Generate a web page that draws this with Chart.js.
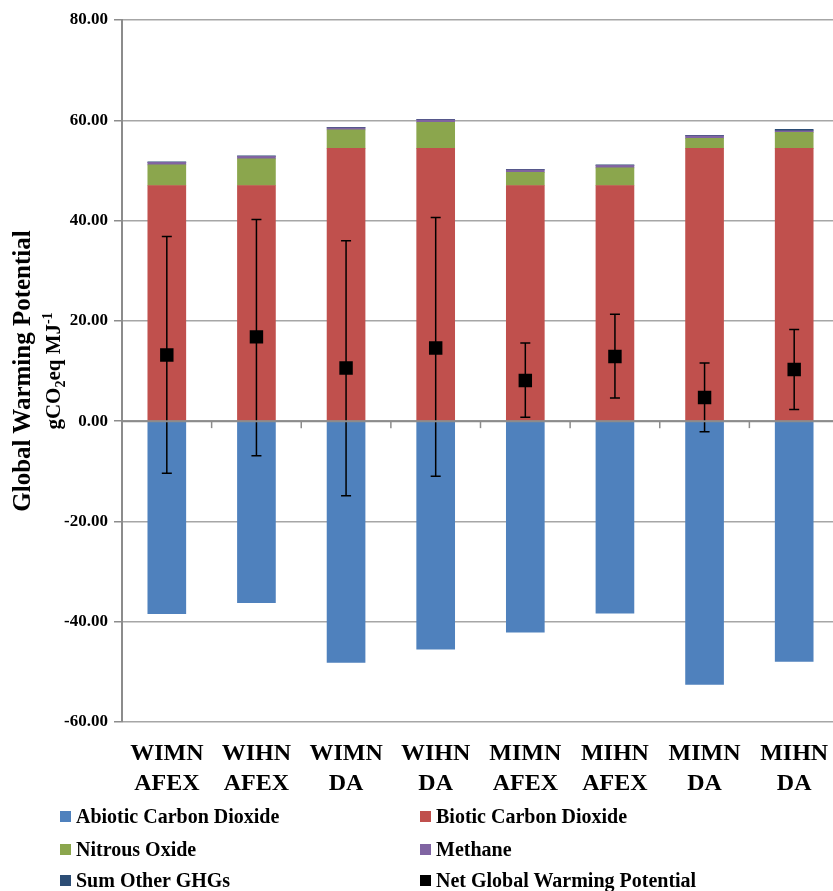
<!DOCTYPE html>
<html>
<head>
<meta charset="utf-8">
<script src="https://cdn.jsdelivr.net/npm/chart.js@4.4.1/dist/chart.umd.min.js"></script>
<style>
  body { margin: 0; background: #fff; overflow: hidden; }
  #wrap { position: relative; width: 833px; height: 891px; overflow: hidden; font-family: "Liberation Serif", "DejaVu Serif", serif; }
  #c { position: absolute; left: 0; top: 0; }
  #ytitle {
    position: absolute; left: -216px; top: 345px; width: 500px; height: 52px;
    transform: rotate(-90deg); text-align: center; font-weight: bold; color: #000;
  }
  #ytitle .l1 { font-size: 25px; line-height: 27px; }
  #ytitle .l2 { font-size: 21px; line-height: 25px; }
  #ytitle sub, #ytitle sup { font-size: 14px; }
  .leg { position: absolute; font-weight: bold; font-size: 20px; color: #000; white-space: nowrap; line-height: 24px; }
  .leg span { display: inline-block; width: 11px; height: 11px; margin-right: 5px; vertical-align: 1px; }
</style>
</head>
<body>
<div id="wrap">
  <!-- canvas a bit wider than the page: the plot runs off the right edge like the original -->
  <canvas id="c" width="839" height="891"></canvas>
  <div id="ytitle"><div class="l1">Global Warming Potential</div><div class="l2">gCO<sub>2</sub>eq MJ<sup>-1</sup></div></div>
  <div id="legend"></div>
</div>
<script>
// Data
const categories = [['WIMN', 'AFEX'], ['WIHN', 'AFEX'], ['WIMN', 'DA'], ['WIHN', 'DA'], ['MIMN', 'AFEX'], ['MIHN', 'AFEX'], ['MIMN', 'DA'], ['MIHN', 'DA']];
const abioticCO2 = [-38.4, -36.2, -48.1, -45.5, -42.1, -38.3, -52.5, -47.9];
const bioticCO2 = [47.0, 47.0, 54.4, 54.4, 47.0, 47.0, 54.4, 54.4];
const nitrousOxide = [4.1, 5.3, 3.7, 5.2, 2.6, 3.5, 2.0, 3.2];
const methane = [0.5, 0.5, 0.4, 0.5, 0.5, 0.5, 0.5, 0.3];
const otherGHGs = [0.1, 0.1, 0.1, 0.1, 0.1, 0.1, 0.1, 0.3];
const netGWP = [13.2, 16.8, 10.6, 14.6, 8.1, 12.9, 4.7, 10.3];
const netHigh = [36.8, 40.2, 36.0, 40.6, 15.6, 21.3, 11.6, 18.3];
const netLow = [-10.4, -6.9, -14.9, -11.0, 0.8, 4.6, -2.1, 2.3];
const yTicks = [-60, -40, -20, 0, 20, 40, 60, 80];

const FONT = '"Liberation Serif", "DejaVu Serif", serif';
const axisGray = '#8c8c8c';
const gridGray = '#a6a6a6';

// error bars under the net GWP squares
const errorBars = {
  id: 'errorBars',
  beforeDatasetDraw(chart, args) {
    if (chart.data.datasets[args.index].label !== 'Net Global Warming Potential') return;
    const ctx = chart.ctx;
    const y = chart.scales.y;
    ctx.save();
    ctx.strokeStyle = '#000';
    ctx.lineWidth = 1.5;
    args.meta.data.forEach((pt, i) => {
      const yh = y.getPixelForValue(netHigh[i]);
      const yl = y.getPixelForValue(netLow[i]);
      ctx.beginPath();
      ctx.moveTo(pt.x, yh); ctx.lineTo(pt.x, yl);
      ctx.moveTo(pt.x - 5, yh); ctx.lineTo(pt.x + 5, yh);
      ctx.moveTo(pt.x - 5, yl); ctx.lineTo(pt.x + 5, yl);
      ctx.stroke();
    });
    ctx.restore();
  }
};

// category axis drawn at zero, over the bars
const zeroAxis = {
  id: 'zeroAxis',
  afterDatasetsDraw(chart) {
    const ctx = chart.ctx;
    const x = chart.scales.x, y = chart.scales.y;
    const y0 = y.getPixelForValue(0);
    ctx.save();
    ctx.strokeStyle = axisGray;
    ctx.lineWidth = 2;
    ctx.beginPath();
    ctx.moveTo(chart.chartArea.left, y0);
    ctx.lineTo(chart.chartArea.right, y0);
    ctx.stroke();
    ctx.lineWidth = 1.5;
    for (let i = 0; i < categories.length - 1; i++) {
      const xm = (x.getPixelForValue(i) + x.getPixelForValue(i + 1)) / 2;
      ctx.beginPath();
      ctx.moveTo(xm, y0);
      ctx.lineTo(xm, y0 + 7);
      ctx.stroke();
    }
    ctx.restore();
  }
};

const barCommon = { type: 'bar', barThickness: 38, stack: 'ghg', order: 1, borderWidth: 0 };

const chart = new Chart(document.getElementById('c').getContext('2d'), {
  data: {
    labels: categories,
    datasets: [
      Object.assign({ label: 'Abiotic Carbon Dioxide', data: abioticCO2, backgroundColor: '#4f81bd' }, barCommon),
      Object.assign({ label: 'Biotic Carbon Dioxide', data: bioticCO2, backgroundColor: '#c0504d' }, barCommon),
      Object.assign({ label: 'Nitrous Oxide', data: nitrousOxide, backgroundColor: '#8ba64d' }, barCommon),
      Object.assign({ label: 'Methane', data: methane, backgroundColor: '#8064a2' }, barCommon),
      Object.assign({ label: 'Sum Other GHGs', data: otherGHGs, backgroundColor: '#2c4d75' }, barCommon),
      {
        type: 'line',
        label: 'Net Global Warming Potential',
        data: netGWP,
        stack: 'net',
        order: 0,
        showLine: false,
        pointStyle: 'rect',
        pointRadius: 9.5,
        backgroundColor: '#000',
        borderColor: '#000',
        borderWidth: 0
      }
    ]
  },
  options: {
    responsive: false,
    animation: false,
    layout: { autoPadding: false, padding: { top: 20, left: 0, right: 0, bottom: 0 } },
    plugins: {
      legend: { display: false },
      tooltip: { enabled: false }
    },
    scales: {
      x: {
        stacked: true,
        grid: { display: false },
        border: { display: false },
        ticks: {
          color: '#000',
          padding: 9,
          maxRotation: 0,
          autoSkip: false,
          font: { family: FONT, size: 24, weight: 'bold', lineHeight: 1.25 }
        },
        afterFit(scale) {
          scale.height = 169;
          scale.paddingLeft = 0;
          scale.paddingRight = 0;
        }
      },
      y: {
        stacked: true,
        min: -60,
        max: 80,
        afterBuildTicks(scale) { scale.ticks = yTicks.map(v => ({ value: v })); },
        grid: {
          color: gridGray,
          lineWidth: 1.5,
          tickLength: 8,
          tickColor: axisGray
        },
        border: { display: true, color: axisGray, width: 2 },
        ticks: {
          color: '#000',
          padding: 6,
          font: { family: FONT, size: 17, weight: 'bold' },
          callback: v => Number(v).toFixed(2)
        },
        afterFit(scale) { scale.width = 122; }
      }
    }
  },
  plugins: [errorBars, zeroAxis]
});

// legend, two columns like the original
const legendPos = [[60, 816], [420, 816], [60, 849], [420, 849], [60, 880], [420, 880]];
const legend = document.getElementById('legend');
chart.data.datasets.forEach((ds, i) => {
  const el = document.createElement('div');
  el.className = 'leg';
  el.style.left = legendPos[i][0] + 'px';
  el.style.top = (legendPos[i][1] - 12) + 'px';
  el.innerHTML = '<span style="background:' + ds.backgroundColor + '"></span>' + ds.label;
  legend.appendChild(el);
});
</script>
</body>
</html>
